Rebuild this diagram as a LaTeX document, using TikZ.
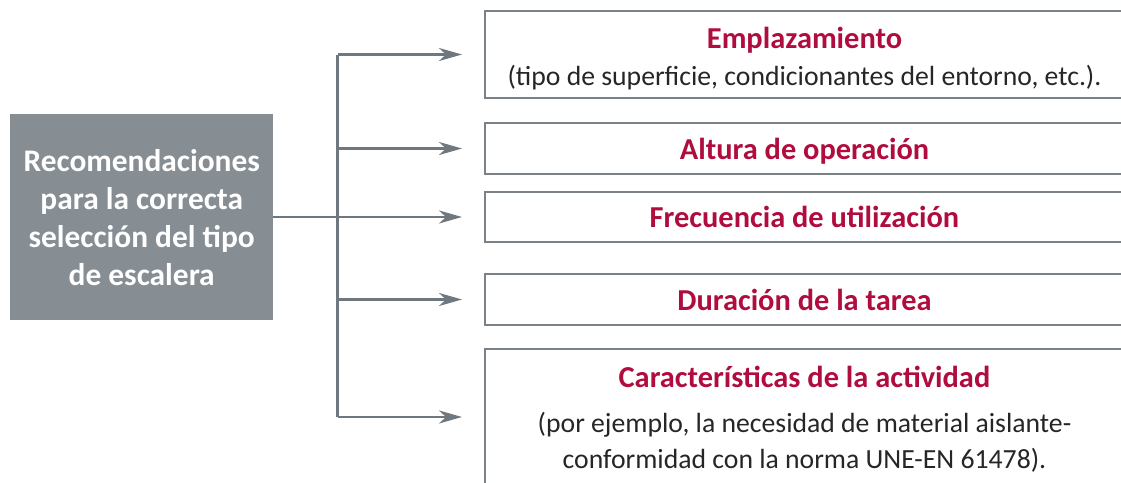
\documentclass[tikz,border=0pt]{standalone}
\usepackage{fontspec}
\setmainfont{Carlito}
\usetikzlibrary{arrows.meta,positioning,calc}
\definecolor{boxgray}{HTML}{868D93}
\definecolor{linegray}{HTML}{7A8288}
\definecolor{arrowgray}{HTML}{6F787E}
\definecolor{titlered}{HTML}{B00C3E}
\definecolor{textdark}{HTML}{262626}
\tikzset{
  itembox/.style={draw=linegray, line width=2pt, anchor=north west, minimum width=639pt,
    inner sep=0pt, align=center, text=textdark, font=\fontsize{27.7}{36}\selectfont},
  mainbox/.style={fill=boxgray, anchor=north west, minimum width=263pt, minimum height=206pt,
    inner sep=0pt, align=center, text=white, font=\bfseries\fontsize{31.4}{38}\selectfont},
  conn/.style={draw=arrowgray, line width=2.5pt},
  arr/.style={conn, -{Stealth[length=23pt,width=13pt,inset=7pt]}, shorten >=22pt},
}
\newcommand{\ttl}[1]{\textcolor{titlered}{\bfseries\fontsize{30.4}{36}\selectfont #1}}
\begin{document}
\begin{tikzpicture}[x=1pt,y=-1pt]
\useasboundingbox (0,0) rectangle (1121,482);
\clip (0,0) rectangle (1121,482);
\node[mainbox] (main) at (10,114) {Recomendaciones\\para la correcta\\selección del tipo\\de escalera};
\node[itembox, minimum height=87pt] (b1) at (484,10) {\ttl{\rule{0pt}{29pt}Emplazamiento}\\[1pt](tipo de superficie, condicionantes del entorno, etc.).};
\node[itembox, minimum height=51pt] (b2) at (484,122) {\ttl{\rule{0pt}{26pt}Altura de operación}};
\node[itembox, minimum height=50pt] (b3) at (484,191) {\ttl{Frecuencia de utilización}};
\node[itembox, minimum height=51pt] (b4) at (484,273) {\ttl{Duración de la tarea}};
\node[itembox, minimum height=136pt] (b5) at (484,348) {\ttl{\rule{0pt}{26pt}Características de la actividad}\\[9pt](por ejemplo, la necesidad de material aislante-\\conformidad con la norma UNE-EN 61478).};
\coordinate (tx) at (337.5,0);
\draw[conn] (b1.west -| tx) -- (b5.west -| tx);
\draw[arr] (main.east |- b3.west) -- (b3.west);
\draw[arr] (b1.west -| tx) -- (b1.west);
\draw[arr] (b2.west -| tx) -- (b2.west);
\draw[arr] (b4.west -| tx) -- (b4.west);
\draw[arr] (b5.west -| tx) -- (b5.west);
\end{tikzpicture}
\end{document}
